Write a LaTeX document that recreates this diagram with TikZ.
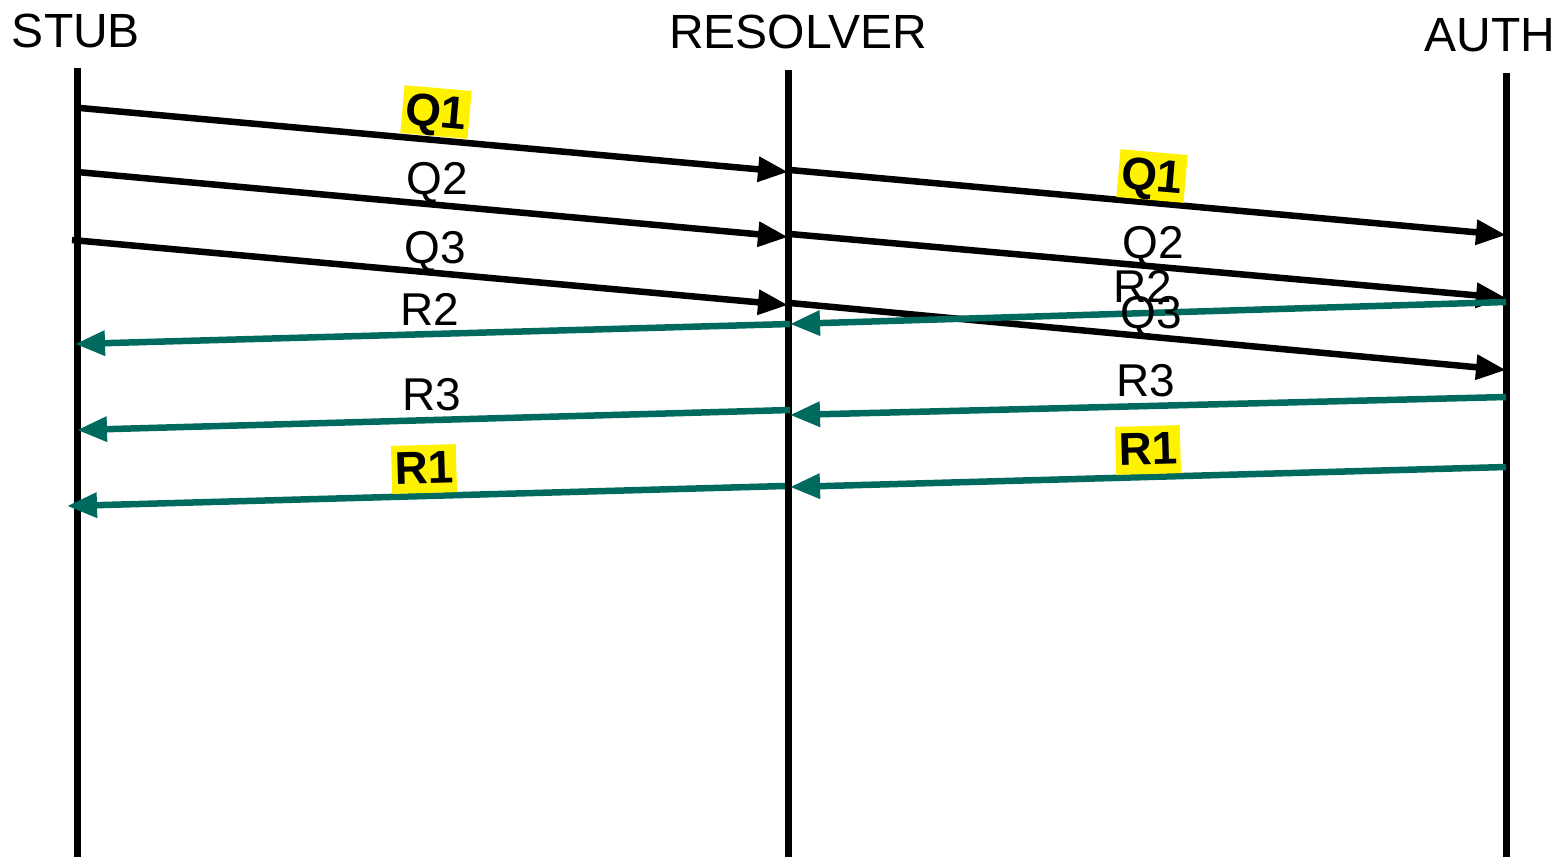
\documentclass[tikz,border=0pt]{standalone}
\usepackage{fontspec}
\setmainfont{Liberation Sans}
\usetikzlibrary{arrows.meta}
\definecolor{teal2}{HTML}{006A5E}
\definecolor{hl}{HTML}{FFF200}
\tikzset{
  life/.style={line width=7pt},
  qmsg/.style={line width=6.5pt,-{Triangle[length=30pt,width=24pt]}},
  rmsg/.style={line width=6.5pt,teal2,-{Triangle[length=30pt,width=24pt]}},
  title/.style={font=\fontsize{48}{50}\selectfont,anchor=base,inner sep=0pt},
  lbl/.style={font=\fontsize{46}{48}\selectfont,anchor=base,inner sep=0pt},
  hlbl/.style={font=\fontsize{46}{48}\selectfont\bfseries,fill=hl,inner sep=3pt,text height=36pt,text depth=6pt}
}
\begin{document}
\begin{tikzpicture}[x=1pt,y=-1pt]
\useasboundingbox (0,0) rectangle (1562,857);
% titles
\node[title] (tstub) at (76,47) {STUB};
\node[title] (tres) at (798,48) {RESOLVER};
\node[title] (tauth) at (1490,51) {AUTH};
% lifelines
\coordinate (s0) at (77,68); \coordinate (s1) at (77,857);
\coordinate (r0) at (788,70); \coordinate (r1) at (788,857);
\coordinate (a0) at (1506,73); \coordinate (a1) at (1506,857);
\draw[life] (s0) -- (s1);
\draw[life] (r0) -- (r1);
\draw[life] (a0) -- (a1);
% query endpoints
\coordinate (q1s) at (80,108); \coordinate (q1r) at (788,172);
\coordinate (q1r2) at (790,170); \coordinate (q1a) at (1506,235);
\coordinate (q2s) at (77,172); \coordinate (q2r) at (788,237);
\coordinate (q2r2) at (790,234); \coordinate (q2a) at (1506,298);
\coordinate (q3s) at (72,240); \coordinate (q3r) at (788,305);
\coordinate (q3r2) at (790,303); \coordinate (q3a) at (1506,370);
% response endpoints
\coordinate (r2a) at (1506,302); \coordinate (r2r) at (790,324);
\coordinate (r2r2) at (790,324); \coordinate (r2s) at (75,344);
\coordinate (r3a) at (1506,397); \coordinate (r3r) at (790,415);
\coordinate (r3r2) at (790,410); \coordinate (r3s) at (77,430);
\coordinate (r1a) at (1506,467); \coordinate (r1r) at (790,487);
\coordinate (r1r2) at (785,486); \coordinate (r1s) at (67,506);
% queries
\draw[qmsg] (q1s) -- (q1r);
\draw[qmsg] (q1r2) -- (q1a);
\draw[qmsg] (q2s) -- (q2r);
\draw[qmsg] (q2r2) -- (q2a);
\draw[qmsg] (q3s) -- (q3r);
\draw[qmsg] (q3r2) -- (q3a);
% responses
\draw[rmsg] (r2a) -- (r2r);
\draw[rmsg] (r2r2) -- (r2s);
\draw[rmsg] (r3a) -- (r3r);
\draw[rmsg] (r3r2) -- (r3s);
\draw[rmsg] (r1a) -- (r1r);
\draw[rmsg] (r1r2) -- (r1s);
% labels
\node[hlbl,rotate=-5] (lq1a) at (436,112) {Q1};
\node[hlbl,rotate=-5] (lq1b) at (1152,176) {Q1};
\node[lbl] (lq2a) at (437,194) {Q2};
\node[lbl] (lq2b) at (1153,258) {Q2};
\node[lbl] (lq3a) at (435,263) {Q3};
\node[lbl] (lr2b) at (1143,302) {R2};
\node[lbl] (lq3b) at (1151,328) {Q3};
\node[lbl] (lr2a) at (430,325) {R2};
\node[lbl] (lr3a) at (432,410) {R3};
\node[lbl] (lr3b) at (1146,396) {R3};
\node[hlbl,rotate=1.6] (lr1a) at (424,469) {R1};
\node[hlbl,rotate=1.6] (lr1b) at (1148,450) {R1};
\end{tikzpicture}
\end{document}
